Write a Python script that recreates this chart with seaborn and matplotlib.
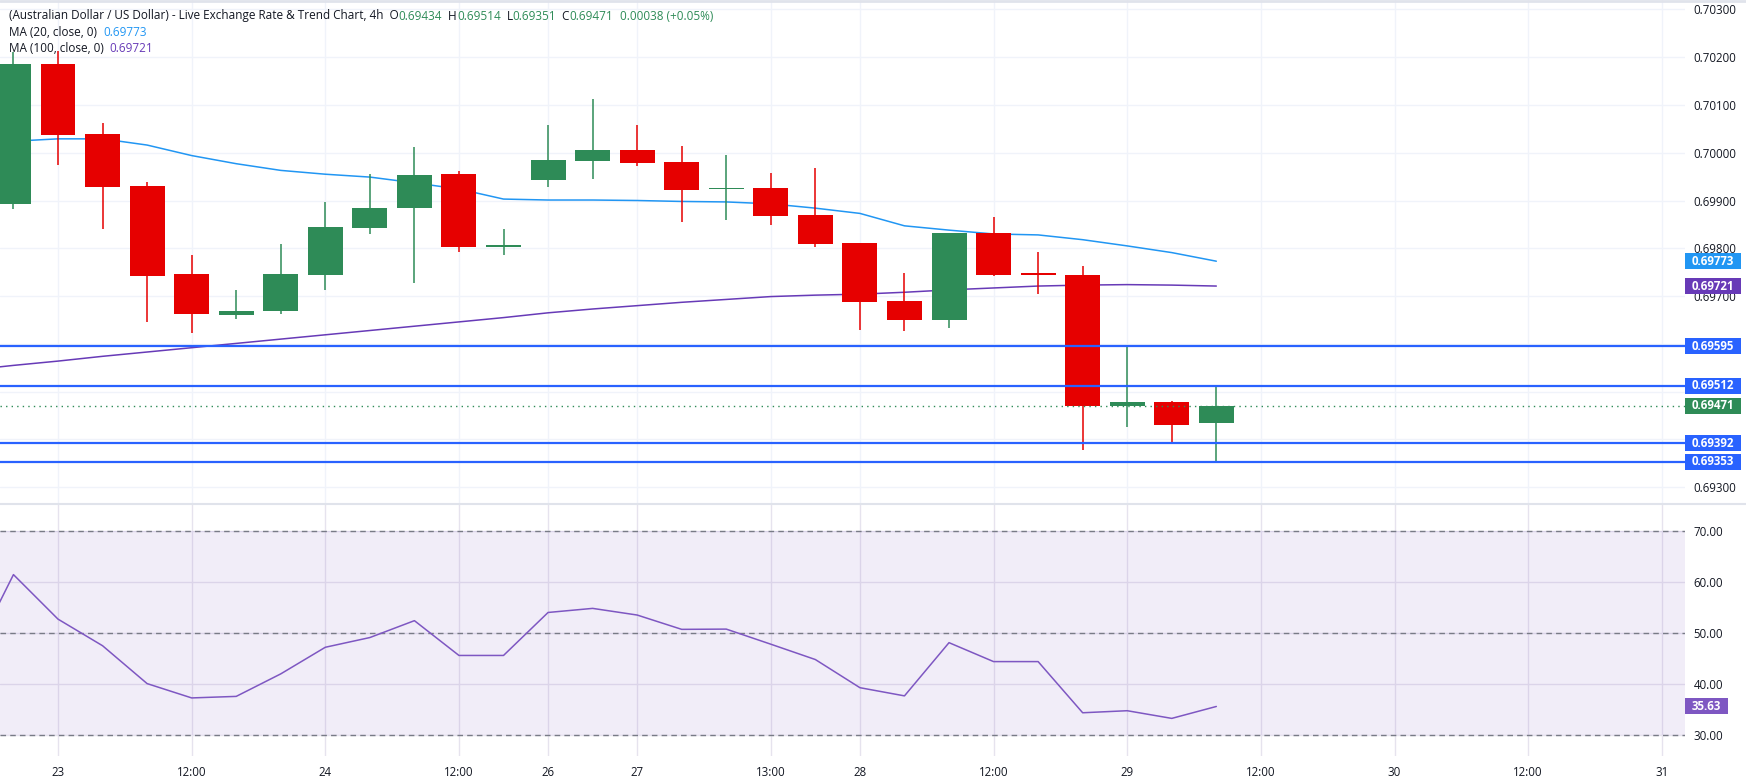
import numpy as np
import pandas as pd
import matplotlib
matplotlib.use("Agg")
import matplotlib.pyplot as plt
from matplotlib.patches import Rectangle
from matplotlib.transforms import IdentityTransform
import seaborn as sns

# === AUD/USD 4h candles, bar 0 = 22nd 20:00 ===
opens = [0.69893, 0.70186, 0.70039, 0.69930, 0.69746, 0.69660, 0.69669, 0.69744,
         0.69843, 0.69885, 0.69956, 0.69803, 0.69942, 0.69983, 0.70006, 0.69981,
         0.69924, 0.69926, 0.69870, 0.69811, 0.69690, 0.69651, 0.69832, 0.69746,
         0.69745, 0.69469, 0.69479, 0.69434]
highs = [0.70210, 0.70213, 0.70062, 0.69938, 0.69786, 0.69713, 0.69809, 0.69897,
         0.69955, 0.70012, 0.69962, 0.69840, 0.70058, 0.70113, 0.70058, 0.70014,
         0.69995, 0.69958, 0.69968, 0.69811, 0.69749, 0.69832, 0.69866, 0.69792,
         0.69764, 0.69595, 0.69481, 0.69514]
lows = [0.69883, 0.69974, 0.69840, 0.69646, 0.69622, 0.69653, 0.69662, 0.69713,
        0.69829, 0.69728, 0.69793, 0.69787, 0.69929, 0.69944, 0.69973, 0.69856,
        0.69860, 0.69849, 0.69803, 0.69630, 0.69628, 0.69634, 0.69741, 0.69705,
        0.69377, 0.69427, 0.69394, 0.69351]
closes = [0.70186, 0.70036, 0.69929, 0.69743, 0.69662, 0.69669, 0.69746, 0.69845,
          0.69884, 0.69953, 0.69803, 0.69805, 0.69985, 0.70006, 0.69979, 0.69923,
          0.69926, 0.69868, 0.69810, 0.69688, 0.69651, 0.69832, 0.69745, 0.69745,
          0.69469, 0.69479, 0.69431, 0.69471]

# indicators start one bar earlier (bar -1 sits off the left edge)
ma20 = [0.70017, 0.70024, 0.70029, 0.70029, 0.70016, 0.69994, 0.69977, 0.69963,
        0.69955, 0.69949, 0.69937, 0.69924, 0.69903, 0.69901, 0.69901, 0.69900,
        0.69898, 0.69897, 0.69893, 0.69884, 0.69873, 0.69847, 0.69838, 0.69830,
        0.69828, 0.69818, 0.69805, 0.69791, 0.69773]
ma100 = [0.69545, 0.69555, 0.69564, 0.69574, 0.69583, 0.69592, 0.69601, 0.69610,
         0.69619, 0.69628, 0.69637, 0.69646, 0.69655, 0.69665, 0.69673, 0.69680,
         0.69687, 0.69693, 0.69699, 0.69702, 0.69704, 0.69708, 0.69713, 0.69717,
         0.69721, 0.69723, 0.69724, 0.69723, 0.69721]
rsi = [44.0, 61.4, 52.7, 47.5, 40.1, 37.3, 37.6, 42.0, 47.2, 49.1, 52.4, 45.6,
       45.6, 54.0, 54.8, 53.5, 50.7, 50.75, 47.8, 44.8, 39.3, 37.7, 48.1, 44.4,
       44.4, 34.4, 34.8, 33.3, 35.63]

levels = [0.69595, 0.69512, 0.69392, 0.69353]
last_close = 0.69471

price_ticks = [0.693, 0.694, 0.695, 0.696, 0.697, 0.698, 0.699, 0.700, 0.701, 0.702, 0.703]
# labels hidden behind the level tags on the right scale
price_tick_labels = ["0.69300", "", "", "", "0.69700", "0.69800", "0.69900",
                     "0.70000", "0.70100", "0.70200", "0.70300"]

tick_pos = [1, 4, 7, 10, 12, 14, 17, 19, 22, 25, 28, 31, 34, 37]
tick_labels = ["23", "12:00", "24", "12:00", "26", "27", "13:00", "28", "12:00",
               "29", "12:00", "30", "12:00", "31"]

# === Colours ===
UP = "#2E8B57"
DOWN = "#E60000"
MA20_C = "#2196F3"
MA100_C = "#673AB7"
RSI_C = "#7E57C2"
LEVEL_C = "#2962FF"
TXT = "#131722"
GRID = "#F0F3FA"

sns.set_theme(style="white")
plt.rcParams["font.family"] = ["Open Sans", "DejaVu Sans"]

df = pd.DataFrame({"o": opens, "h": highs, "l": lows, "c": closes})
df["i"] = np.arange(len(df))
ind = pd.DataFrame({"i": np.arange(-1, len(df)), "ma20": ma20, "ma100": ma100, "rsi": rsi})

W, H = 1746, 782
fig = plt.figure(figsize=(W / 100, H / 100), dpi=100)
plot_w = 1685
ax = fig.add_axes([0, (H - 504) / H, plot_w / W, 504 / H])
ax2 = fig.add_axes([0, 26 / H, plot_w / W, 252 / H], sharex=ax)

# === Price pane ===
up = df["c"] >= df["o"]
colors = np.where(up, UP, DOWN)
ax.vlines(df["i"], df["l"], df["h"], colors=colors, lw=1.1, zorder=3)
body = (df["c"] - df["o"]).abs().clip(lower=0.00003)
ax.bar(df["i"], body, bottom=np.minimum(df["o"], df["c"]), width=0.785,
       color=colors, linewidth=0, zorder=4)

sns.lineplot(data=ind, x="i", y="ma20", ax=ax, color=MA20_C, lw=1.1, zorder=2)
sns.lineplot(data=ind, x="i", y="ma100", ax=ax, color=MA100_C, lw=1.1, zorder=2)

for lv in levels:
    ax.axhline(lv, color=LEVEL_C, lw=1.6, zorder=5)
ax.axhline(last_close, color=UP, lw=1.0, ls=(0, (1, 3)), zorder=5)

ax.set_xlim(-0.302, 37.52)
ax.set_ylim(0.69265, 0.703195)
ax.set_yticks(price_ticks, price_tick_labels)
ax.yaxis.tick_right()
ax.tick_params(axis="y", length=0, pad=6, labelsize=8.3, labelcolor=TXT)
ax.tick_params(axis="x", length=0, labelbottom=False)
ax.set_xticks(tick_pos)
ax.grid(True, color=GRID, lw=1)
ax.set_axisbelow(True)
ax.set_xlabel("")
ax.set_ylabel("")
for s in ax.spines.values():
    s.set_visible(False)

# === RSI pane ===
ax2.axhspan(30, 70, color=RSI_C, alpha=0.1, lw=0, zorder=1)
for lv in [30, 50, 70]:
    ax2.axhline(lv, color="#787B86", lw=1, ls=(0, (4, 3)), zorder=2)
sns.lineplot(data=ind, x="i", y="rsi", ax=ax2, color=RSI_C, lw=1.1, zorder=3)
ax2.set_ylim(25.95, 75.2)
ax2.set_yticks([30, 40, 50, 60, 70])
ax2.yaxis.set_major_formatter(matplotlib.ticker.FormatStrFormatter("%.2f"))
ax2.yaxis.tick_right()
ax2.tick_params(axis="y", length=0, pad=6, labelsize=8.3, labelcolor=TXT)
ax2.set_xticks(tick_pos, tick_labels)
ax2.tick_params(axis="x", length=0, pad=7, labelsize=8.3, labelcolor=TXT)
ax2.grid(True, color="#E6E3EE", lw=1)
ax2.set_axisbelow(True)
ax2.set_xlabel("")
ax2.set_ylabel("")
for s in ax2.spines.values():
    s.set_visible(False)

# pane separators
fig.add_artist(plt.Line2D([0, 1], [(H - 504) / H] * 2, color="#E0E3EB", lw=1.5))
fig.add_artist(plt.Line2D([0, 1], [1 - 1 / H] * 2, color="#E0E3EB", lw=2))


# === Price tags on the right scale ===
def tag(axis, val, text, color, width=56):
    y = axis.transData.transform((0, val))[1]
    fig.add_artist(Rectangle((plot_w, y - 8), width, 16, transform=IdentityTransform(),
                             facecolor=color, edgecolor="none", zorder=10))
    fig.text(plot_w + width / 2, y, text, transform=IdentityTransform(), ha="center",
             va="center", color="white", fontsize=8.3, fontweight="bold", zorder=11)


tag(ax, 0.69773, "0.69773", MA20_C)
tag(ax, 0.69721, "0.69721", MA100_C)
for lv in levels:
    tag(ax, lv, f"{lv:.5f}", LEVEL_C)
tag(ax, last_close, "0.69471", UP)
tag(ax2, 35.63, "35.63", RSI_C, width=43)


# === Legend text (coloured pieces chained left to right) ===
def chain(px, py, parts, size=8.5):
    prev = ax.annotate(parts[0][0], xy=(px / W, 1 - py / H), xycoords="figure fraction",
                       color=parts[0][1], fontsize=size, va="center", ha="left")
    for txt, col in parts[1:]:
        prev = ax.annotate(txt, xy=(1, 0), xycoords=prev, color=col, fontsize=size,
                           va="bottom", ha="left")


chain(9, 16, [("(Australian Dollar / US Dollar) - Live Exchange Rate & Trend Chart, 4h  O", TXT),
              ("0.69434", UP), ("  H", TXT), ("0.69514", UP), ("  L", TXT), ("0.69351", UP),
              ("  C", TXT), ("0.69471", UP), ("  0.00038 (+0.05%)", UP)])
chain(9, 32.5, [("MA (20, close, 0)  ", TXT), ("0.69773", MA20_C)])
chain(9, 49, [("MA (100, close, 0)  ", TXT), ("0.69721", MA100_C)])
chain(8, 520, [("RSI (14)  ", TXT), ("35.63", RSI_C)])

fig.savefig("out.png", dpi=100, facecolor="white")
